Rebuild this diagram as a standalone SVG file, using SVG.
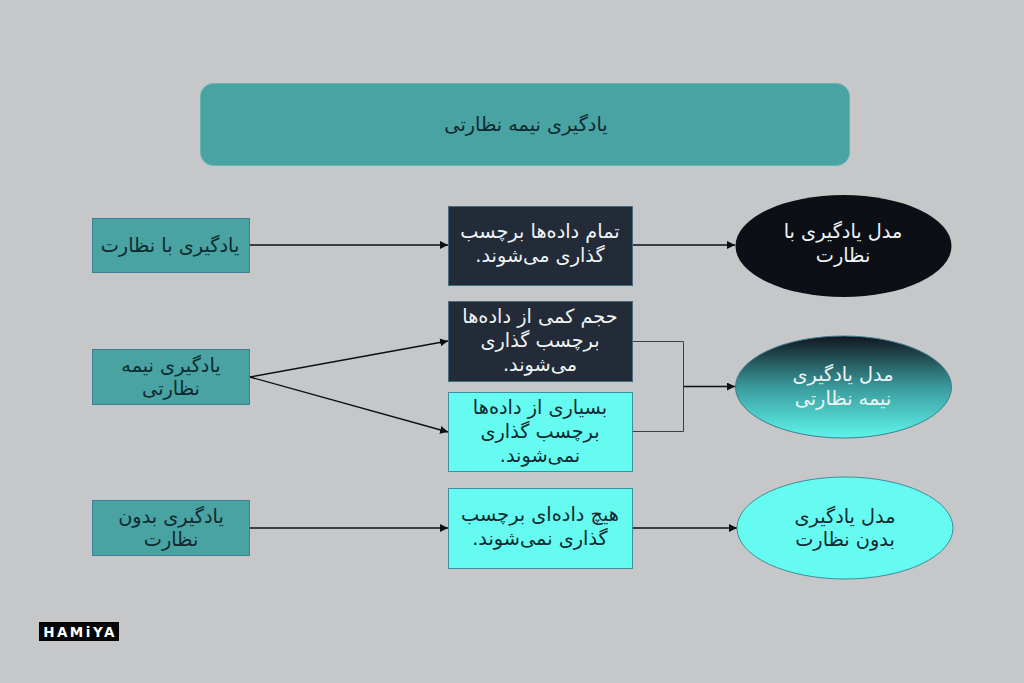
<svg xmlns="http://www.w3.org/2000/svg" width="1024" height="683" viewBox="0 0 1024 683">
<defs>
<marker id="arrow" markerUnits="userSpaceOnUse" markerWidth="9" markerHeight="8" refX="8" refY="4" orient="auto"><path d="M0 0L8 4L0 8Z" fill="#0b0f14"/></marker>
<linearGradient id="semi" x1="0" y1="0" x2="0" y2="1"><stop offset="0" stop-color="#11161f"/><stop offset="0.5" stop-color="#3a9a9c"/><stop offset="1" stop-color="#5ef5ea"/></linearGradient>
</defs>
<style>
text{font-family:"DejaVu Sans","Noto Sans",sans-serif;font-size:19.3px;text-anchor:middle;direction:rtl}
.teal{fill:#48a3a2;stroke:#3d7f93;stroke-width:1}
.dark{fill:#232a38;stroke:#4a6a80;stroke-width:1}
.cyan{fill:#66fbf0;stroke:#3d8f9a;stroke-width:1}
.dt{fill:#0f2a30}
.lt{fill:#eef4f4}
.c{fill:none;stroke:#0b0f14;stroke-width:1.4}
.t{fill:none;stroke:#3a3f44;stroke-width:1}
</style>
<rect width="1024" height="683" fill="#c5c7c9"/>
<g id="title"><rect x="200.500" y="83.500" width="649" height="82" rx="13" fill="#48a3a2" stroke="#64b5b3"/><text x="526" y="131" class="dt">یادگیری نیمه نظارتی</text></g>
<g id="connectors">
<path class="c" d="M250 245H448" marker-end="url(#arrow)"/>
<path class="c" d="M632 245H735" marker-end="url(#arrow)"/>
<path class="c" d="M250 377L448 341" marker-end="url(#arrow)"/>
<path class="c" d="M250 377L448 432" marker-end="url(#arrow)"/>
<path class="t" d="M632 341.500H683.500V431.500H632"/>
<path class="c" d="M684 386.500H735" marker-end="url(#arrow)"/>
<path class="c" d="M250 528H448" marker-end="url(#arrow)"/>
<path class="c" d="M632 528H737" marker-end="url(#arrow)"/>
</g>
<g id="n-supervised"><rect class="teal" x="92.500" y="218.500" width="157" height="54"/><text x="170" y="252" class="dt">یادگیری با نظارت</text></g>
<g id="n-semi"><rect class="teal" x="92.500" y="349.500" width="157" height="55"/><text x="171" y="372" class="dt">یادگیری نیمه</text><text x="171" y="395" class="dt">نظارتی</text></g>
<g id="n-unsupervised"><rect class="teal" x="92.500" y="500.500" width="157" height="55"/><text x="171" y="523" class="dt">یادگیری بدون</text><text x="171" y="546" class="dt">نظارت</text></g>
<g id="b-all"><rect class="dark" x="448.500" y="206.500" width="184" height="79"/><text x="540" y="238" class="lt">تمام داده‌ها برچسب</text><text x="540" y="262" class="lt">گذاری می‌شوند.</text></g>
<g id="b-few"><rect class="dark" x="448.500" y="301.500" width="184" height="80"/><text x="540" y="323" class="lt">حجم کمی از داده‌ها</text><text x="540" y="347" class="lt">برچسب گذاری</text><text x="540" y="371" class="lt">می‌شوند.</text></g>
<g id="b-many"><rect class="cyan" x="448.500" y="392.500" width="184" height="79"/><text x="540" y="414" class="dt">بسیاری از داده‌ها</text><text x="540" y="438" class="dt">برچسب گذاری</text><text x="540" y="462" class="dt">نمی‌شوند.</text></g>
<g id="b-none"><rect class="cyan" x="448.500" y="488.500" width="184" height="80"/><text x="540" y="521" class="dt">هیچ داده‌ای برچسب</text><text x="540" y="545" class="dt">گذاری نمی‌شوند.</text></g>
<g id="e-supervised"><ellipse cx="843.500" cy="246" rx="108" ry="51" fill="#0c0f15"/><text x="843" y="238" class="lt">مدل یادگیری با</text><text x="843" y="262" class="lt">نظارت</text></g>
<g id="e-semi"><ellipse cx="843.500" cy="387" rx="108" ry="51" fill="url(#semi)" stroke="#3d7f93"/><text x="843" y="381" class="lt">مدل یادگیری</text><text x="843" y="405" class="lt">نیمه نظارتی</text></g>
<g id="e-unsupervised"><ellipse cx="845" cy="528" rx="108" ry="51" fill="#66fbf0" stroke="#3d8f9a"/><text x="845" y="523" class="dt">مدل یادگیری</text><text x="845" y="546" class="dt">بدون نظارت</text></g>
<g id="logo"><rect x="39" y="622" width="80" height="19" fill="#050505"/><text x="80" y="636.500" style="direction:ltr;font-size:13.500px;font-weight:bold;letter-spacing:2.500px;fill:#fff">HAMiYA</text></g>
</svg>
